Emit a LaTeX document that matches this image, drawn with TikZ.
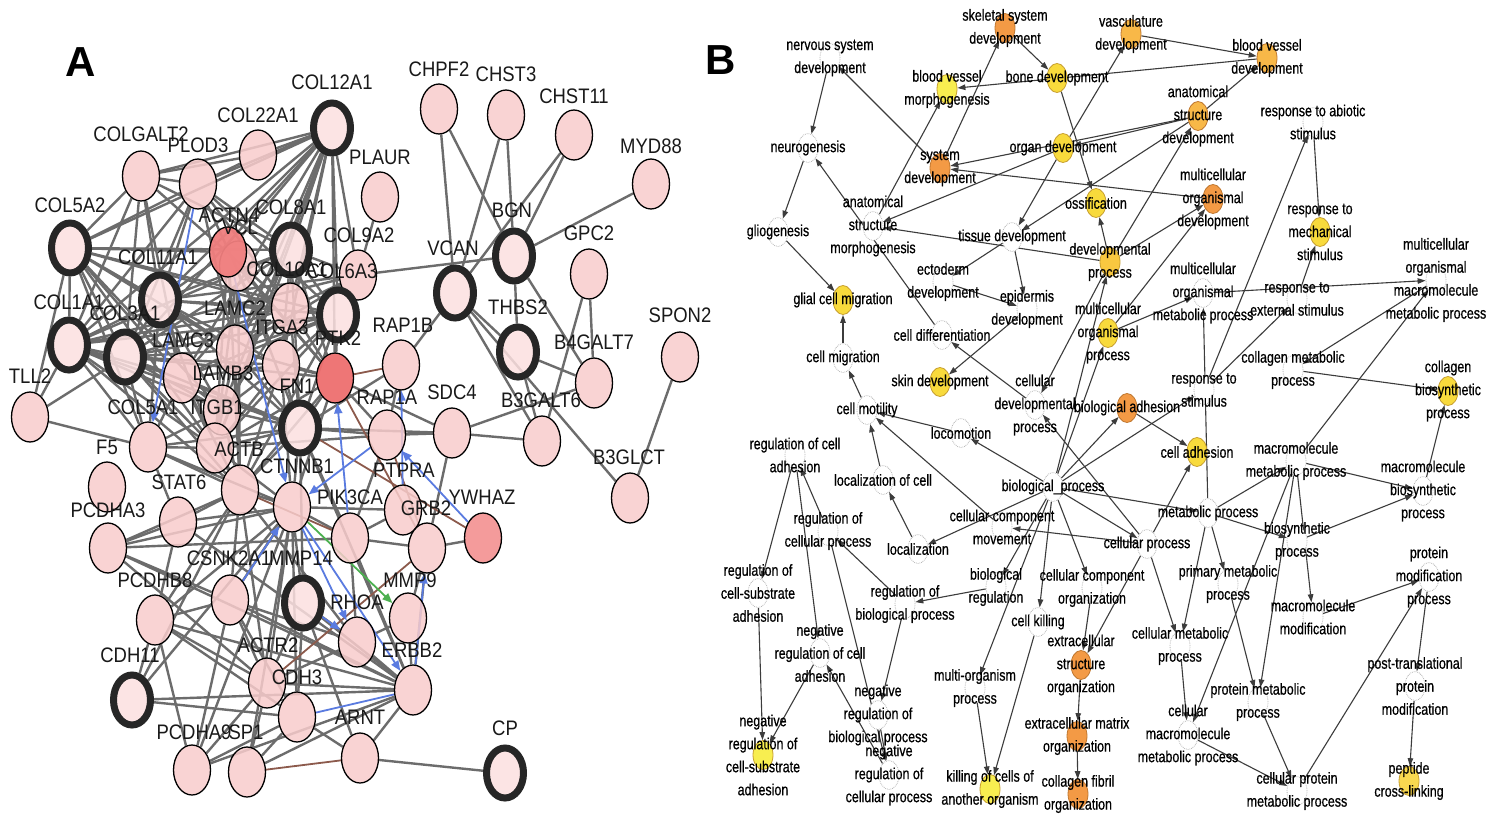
\documentclass[tikz,border=0pt]{standalone}
\usepackage{fontspec}
\setmainfont{Liberation Sans}
\newfontfamily\afont[FakeStretch=0.88]{Liberation Sans}
\newfontfamily\bfont[FakeStretch=0.78,FakeBold=0.6]{Liberation Sans}
\usetikzlibrary{shapes.geometric,arrows.meta}
\pgfdeclarelayer{bg}\pgfdeclarelayer{fg}\pgfsetlayers{bg,main,fg}
\definecolor{apink}{HTML}{F8CCCC}
\definecolor{apale}{HTML}{FCE0E0}
\definecolor{athk}{HTML}{262626}
\definecolor{aredA}{HTML}{F07E7E}
\definecolor{aredB}{HTML}{EE6F6F}
\definecolor{aredC}{HTML}{F49696}
\definecolor{agray}{HTML}{6C6C6C}
\definecolor{ablu}{HTML}{5A7BE0}
\definecolor{abrn}{HTML}{8C5A4C}
\definecolor{agrn}{HTML}{4CB050}
\definecolor{borng}{HTML}{F39A45}
\definecolor{bordr}{HTML}{C07830}
\definecolor{blor}{HTML}{F8B848}
\definecolor{bdev}{HTML}{F9C840}
\definecolor{byel}{HTML}{F8DA3C}
\definecolor{bpyl}{HTML}{F8EE50}
\definecolor{bpcl}{HTML}{F8D850}
\definecolor{bydr}{HTML}{C8A030}
\definecolor{bgray}{HTML}{3C3C3C}
\tikzset{
 an/.style={ellipse, draw=black, line width=1.3pt, fill=apink, fill opacity=0.85, minimum width=37pt, minimum height=50pt, inner sep=0pt},
 athick/.style={an, line width=7pt, draw=athk, fill=apale},
 ared/.style={an, fill=aredA, fill opacity=0.95},
 aredb/.style={an, fill=aredB, fill opacity=0.95},
 aredc/.style={an, fill=aredC, fill opacity=0.95},
 alab/.style={font=\afont\fontsize{21}{24}\selectfont, text=black!90, inner sep=0pt},
 aedge/.style={draw=agray, line width=2.4pt},
 ablue/.style={draw=ablu, line width=1.8pt, -{Triangle[length=10pt,width=8pt]}},
 abrown/.style={draw=abrn, line width=1.8pt},
 agreen/.style={draw=agrn, line width=1.8pt, -{Triangle[length=10pt,width=8pt]}},
 bnode/.style={ellipse, minimum width=20pt, minimum height=29pt, inner sep=0pt, line width=0.8pt},
 bw/.style={bnode, draw=gray!55, densely dotted, fill=white},
 bor/.style={bnode, draw=bordr, fill=borng},
 blo/.style={bnode, draw=bordr, fill=blor},
 bdp/.style={bnode, draw=bydr, fill=bdev},
 bye/.style={bnode, draw=bydr, fill=byel},
 bpy/.style={bnode, draw=bydr, fill=bpyl},
 bpc/.style={bnode, draw=bydr, fill=bpcl},
 blab/.style={font=\bfont\fontsize{16}{23}\selectfont, align=center, inner sep=0pt, text=black},
 bedge/.style={draw=bgray, line width=1.1pt, -{Triangle[length=8pt,width=5.5pt]}},
 panel/.style={font=\bfseries\fontsize{42}{42}\selectfont, inner sep=0pt}
}
\newcommand\An[7]{\node[#4] (#1) at (#2,#3) {};\begin{pgfonlayer}{fg}\node[alab] (#1-l) at (#6,#7) {#5};\end{pgfonlayer}}
\newcommand\Bn[5]{\node[#4] (#1) at (#2,#3) {};\begin{pgfonlayer}{fg}\node[blab] (#1-t) at (#2,#3) {#5};\end{pgfonlayer}}
\begin{document}
\begin{tikzpicture}[x=1pt,y=-1pt]
\begin{pgfonlayer}{bg}
\fill[white] (0,0) rectangle (1493,824);
\end{pgfonlayer}
\useasboundingbox (0,0) rectangle (1493,824);
\node[panel] (lA) at (81,62) {A};
\node[panel] (lB) at (721,60) {B};
% ---------- Panel A nodes ----------
\An{COL12A1}{332}{128}{athick}{COL12A1}{332}{82}
\An{COL22A1}{258}{155}{an}{COL22A1}{258}{115}
\An{COLGALT2}{141}{176}{an}{COLGALT2}{141}{134}
\An{PLOD3}{198}{184}{an}{PLOD3}{198}{145}
\An{PLAUR}{380}{197}{an}{PLAUR}{380}{157}
\An{CHPF2}{439}{109}{an}{CHPF2}{439}{69}
\An{CHST3}{506}{115}{an}{CHST3}{506}{74}
\An{CHST11}{574}{135}{an}{CHST11}{574}{96}
\An{MYD88}{651}{184}{an}{MYD88}{651}{146}
\An{COL5A2}{70}{248}{athick}{COL5A2}{70}{205}
\An{VCL}{238}{266}{an}{VCL}{240}{227}
\An{ACTN4}{228}{252}{ared}{ACTN4}{229}{215}
\An{COL8A1}{291}{250}{athick}{COL8A1}{291}{207}
\An{COL9A2}{358}{275}{an}{COL9A2}{359}{235}
\An{COL11A1}{160}{300}{athick}{COL11A1}{158}{257}
\An{COL10A1}{290}{308}{an}{COL10A1}{287}{269}
\An{COL6A3}{338}{315}{athick}{COL6A3}{342}{271}
\An{COL1A1}{69}{345}{athick}{COL1A1}{69}{302}
\An{COL3A1}{125}{357}{athick}{COL3A1}{125}{313}
\An{LAMC2}{235}{350}{an}{LAMC2}{235}{308}
\An{ITGA3}{281}{365}{an}{ITGA3}{282}{327}
\An{PTK2}{335}{378}{aredb}{PTK2}{338}{338}
\An{LAMC3}{182}{378}{an}{LAMC3}{183}{340}
\An{LAMB3}{222}{410}{an}{LAMB3}{223}{373}
\An{ITGB1}{215}{448}{an}{ITGB1}{217}{407}
\An{COL5A1}{148}{447}{an}{COL5A1}{143}{407}
\An{TLL2}{30}{417}{an}{TLL2}{30}{376}
\An{FN1}{300}{428}{athick}{FN1}{297}{386}
\An{RAP1B}{401}{365}{an}{RAP1B}{403}{325}
\An{RAP1A}{387}{435}{an}{RAP1A}{387}{397}
\An{SDC4}{452}{433}{an}{SDC4}{452}{392}
\An{F5}{107}{487}{an}{F5}{107}{447}
\An{ACTB}{240}{490}{an}{ACTB}{239}{449}
\An{CTNNB1}{292}{507}{an}{CTNNB1}{297}{466}
\An{STAT6}{178}{522}{an}{STAT6}{179}{482}
\An{PIK3CA}{350}{538}{an}{PIK3CA}{350}{497}
\An{PTPRA}{403}{510}{an}{PTPRA}{404}{470}
\An{GRB2}{427}{548}{an}{GRB2}{426}{508}
\An{YWHAZ}{483}{538}{aredc}{YWHAZ}{482}{497}
\An{PCDHA3}{108}{548}{an}{PCDHA3}{108}{510}
\An{CSNK2A1}{230}{600}{an}{CSNK2A1}{229}{558}
\An{MMP14}{303}{603}{athick}{MMP14}{301}{558}
\An{RHOA}{357}{642}{an}{RHOA}{357}{602}
\An{MMP9}{408}{618}{an}{MMP9}{410}{580}
\An{PCDHB8}{155}{620}{an}{PCDHB8}{155}{580}
\An{ERBB2}{413}{690}{an}{ERBB2}{412}{650}
\An{CDH11}{132}{700}{athick}{CDH11}{130}{655}
\An{ACTR2}{267}{683}{an}{ACTR2}{268}{645}
\An{CDH3}{297}{717}{an}{CDH3}{297}{677}
\An{PCDHA9}{192}{770}{an}{PCDHA9}{194}{732}
\An{SP1}{247}{772}{an}{SP1}{246}{732}
\An{ARNT}{360}{758}{an}{ARNT}{360}{717}
\An{CP}{505}{773}{athick}{CP}{505}{728}
\An{VCAN}{455}{293}{athick}{VCAN}{453}{248}
\An{BGN}{514}{256}{athick}{BGN}{512}{210}
\An{GPC2}{589}{274}{an}{GPC2}{589}{233}
\An{THBS2}{518}{352}{athick}{THBS2}{518}{307}
\An{B4GALT7}{594}{383}{an}{B4GALT7}{594}{342}
\An{B3GALT6}{542}{441}{an}{B3GALT6}{541}{400}
\An{B3GLCT}{630}{498}{an}{B3GLCT}{629}{457}
\An{SPON2}{680}{357}{an}{SPON2}{680}{315}
% ---------- Panel A edges ----------
\begin{pgfonlayer}{bg}
\foreach \a/\b in {COL12A1/COL22A1, COL12A1/COLGALT2, COL12A1/PLOD3, COL12A1/COL5A2, COL12A1/COL11A1, COL12A1/COL8A1, COL12A1/COL1A1, COL12A1/COL3A1, COL12A1/COL10A1, COL12A1/COL6A3, COL12A1/COL9A2, COL12A1/LAMC2, COL12A1/ITGA3, COL12A1/ACTN4, COL12A1/LAMC3, COL12A1/LAMB3, COL12A1/PTK2, COL12A1/ITGB1,
COL22A1/COLGALT2, COL22A1/PLOD3,
COLGALT2/COL5A2, COLGALT2/COL11A1, COLGALT2/COL1A1, COLGALT2/COL3A1, COLGALT2/LAMC3, COLGALT2/PLOD3, COLGALT2/COL8A1, COLGALT2/COL10A1,
PLOD3/COL5A2, PLOD3/COL11A1, PLOD3/COL1A1, PLOD3/COL3A1, PLOD3/COL8A1, PLOD3/COL10A1, PLOD3/COL6A3, PLOD3/LAMC2, PLOD3/ITGA3,
COL5A2/COL11A1, COL5A2/COL1A1, COL5A2/COL3A1, COL5A2/LAMC3, COL5A2/LAMB3, COL5A2/ACTN4, COL5A2/COL8A1, COL5A2/COL10A1, COL5A2/COL6A3, COL5A2/TLL2, COL5A2/LAMC2, COL5A2/ITGB1, COL5A2/COL5A1,
COL8A1/COL11A1, COL8A1/COL1A1, COL8A1/COL3A1, COL8A1/COL10A1, COL8A1/COL6A3, COL8A1/LAMC2, COL8A1/ITGA3, COL8A1/LAMC3, COL8A1/COL9A2, COL8A1/ITGB1, COL8A1/FN1, COL8A1/PTK2,
COL9A2/COL6A3, COL9A2/COL10A1, COL9A2/COL11A1, COL9A2/BGN, COL9A2/PLAUR, COL9A2/LAMC2, COL9A2/COL1A1,
COL11A1/COL1A1, COL11A1/COL3A1, COL11A1/COL10A1, COL11A1/COL6A3, COL11A1/LAMC2, COL11A1/LAMC3, COL11A1/LAMB3, COL11A1/ITGA3, COL11A1/ITGB1, COL11A1/ACTN4, COL11A1/COL5A1, COL11A1/FN1,
COL1A1/COL3A1, COL1A1/TLL2, COL1A1/COL5A1, COL1A1/LAMC3, COL1A1/LAMB3, COL1A1/ITGB1, COL1A1/FN1, COL1A1/COL10A1, COL1A1/COL6A3, COL1A1/ACTB,
COL3A1/TLL2, COL3A1/COL5A1, COL3A1/LAMC3, COL3A1/LAMB3, COL3A1/ITGB1, COL3A1/FN1, COL3A1/COL10A1, COL3A1/COL6A3, COL3A1/LAMC2, COL3A1/ITGA3, COL3A1/ACTB, COL3A1/PTK2,
TLL2/COL5A1,
COL10A1/COL6A3, COL10A1/LAMC2, COL10A1/ITGA3, COL10A1/PTK2, COL10A1/FN1, COL10A1/LAMB3,
COL6A3/LAMC2, COL6A3/ITGA3, COL6A3/PTK2, COL6A3/FN1, COL6A3/LAMC3, COL6A3/ITGB1, COL6A3/ACTB,
LAMC2/ITGA3, LAMC2/LAMC3, LAMC2/LAMB3, LAMC2/ITGB1, LAMC2/FN1, LAMC2/PTK2, LAMC2/ACTB,
LAMC3/LAMB3, LAMC3/ITGB1, LAMC3/FN1, LAMC3/ITGA3, LAMC3/COL5A1, LAMC3/ACTB,
LAMB3/ITGB1, LAMB3/ITGA3, LAMB3/FN1, LAMB3/COL5A1, LAMB3/ACTB,
ITGA3/ITGB1, ITGA3/FN1, ITGA3/PTK2, ITGA3/ACTB, ITGA3/CTNNB1,
ITGB1/FN1, ITGB1/PTK2, ITGB1/ACTB, ITGB1/COL5A1, ITGB1/CTNNB1, ITGB1/ACTN4, ITGB1/RAP1A,
COL5A1/FN1, COL5A1/ACTB, COL5A1/CTNNB1, COL5A1/STAT6,
FN1/PTK2, FN1/ACTB, FN1/CTNNB1, FN1/SDC4, FN1/RAP1A, FN1/RAP1B, FN1/PIK3CA, FN1/ERBB2, FN1/MMP14,
PTK2/RAP1A, PTK2/SDC4, PTK2/ACTB, PTK2/CTNNB1, PTK2/ACTN4,
VCL/ACTN4, VCL/ITGB1, VCL/PTK2, VCL/FN1, VCL/ACTB, VCL/LAMC2,
ACTN4/LAMC2, ACTN4/ITGA3, ACTN4/ACTB,
ACTB/CTNNB1, ACTB/STAT6, ACTB/PCDHA3, ACTB/ACTR2, ACTB/CSNK2A1, ACTB/RHOA, ACTB/PCDHB8, ACTB/CDH11,
STAT6/CTNNB1, STAT6/PCDHA3, STAT6/PCDHB8, STAT6/ERBB2,
PCDHA3/CTNNB1, PCDHA3/CSNK2A1, PCDHA3/PIK3CA, PCDHA3/ERBB2, PCDHA3/ACTR2,
CTNNB1/PIK3CA, CTNNB1/CSNK2A1, CTNNB1/MMP14, CTNNB1/ACTR2, CTNNB1/CDH3, CTNNB1/PCDHB8, CTNNB1/CDH11, CTNNB1/PTPRA, CTNNB1/SP1, CTNNB1/PCDHA9,
PCDHB8/CSNK2A1, PCDHB8/CDH11, PCDHB8/CDH3, PCDHB8/ACTR2, PCDHB8/ERBB2, PCDHB8/PCDHA9,
CSNK2A1/PCDHA9, CSNK2A1/ERBB2, CSNK2A1/CDH3, CSNK2A1/ACTR2, CSNK2A1/RHOA,
MMP14/RHOA, MMP14/ARNT, MMP14/CDH3, MMP14/ACTR2, MMP14/ERBB2,
CDH11/ERBB2, CDH11/CDH3,
ACTR2/ERBB2, ACTR2/CDH3, ACTR2/RHOA, ACTR2/SP1,
CDH3/PCDHA9, CDH3/SP1,
PCDHA9/ERBB2, PCDHA9/ACTR2,
SP1/ERBB2,
ARNT/CP, ARNT/ERBB2, ARNT/CDH3,
RHOA/ERBB2, RHOA/MMP9, RHOA/PIK3CA,
PIK3CA/GRB2, PIK3CA/PTPRA, PIK3CA/ERBB2, PIK3CA/RAP1A,
GRB2/YWHAZ, GRB2/ERBB2, GRB2/PTPRA, GRB2/SDC4,
RAP1A/RAP1B, RAP1A/SDC4,
RAP1B/VCAN,
SDC4/B3GALT6, SDC4/B4GALT7,
VCAN/CHPF2, VCAN/CHST3, VCAN/CHST11, VCAN/THBS2, VCAN/B3GLCT, VCAN/B3GALT6,
BGN/CHPF2, BGN/CHST3, BGN/CHST11, BGN/MYD88, BGN/THBS2, BGN/B4GALT7,
GPC2/B4GALT7, GPC2/B3GALT6,
THBS2/B3GALT6, THBS2/B4GALT7,
SPON2/B3GLCT,
MMP9/ERBB2, MMP9/GRB2}
  \draw[aedge] (\a) -- (\b);
\foreach \a/\b in {PTK2/RAP1B, FN1/YWHAZ, PTK2/GRB2, RAP1A/GRB2, ACTR2/GRB2, SP1/ARNT, ACTB/PIK3CA}
  \draw[abrown] (\a) -- (\b);
\draw[ablu, line width=1.8pt] (CDH3) -- (ERBB2);
\foreach \a/\b in {PLOD3/COL5A1, ACTN4/CTNNB1, PIK3CA/PTK2, PTPRA/RAP1B, YWHAZ/RAP1A, RAP1A/CTNNB1, CSNK2A1/CTNNB1, MMP14/RHOA, ERBB2/GRB2, CTNNB1/RHOA, CTNNB1/ERBB2}
  \draw[ablue] (\a) -- (\b);
\draw[agreen] (CTNNB1) -- (MMP9);
\end{pgfonlayer}
% ---------- Panel B nodes ----------
\Bn{ssd}{1005}{28}{bor}{skeletal system\\development}
\Bn{nsd}{830}{58}{bw}{nervous system\\development}
\Bn{vd}{1131}{34}{blo}{vasculature\\development}
\Bn{bvd}{1267}{58}{blo}{blood vessel\\development}
\Bn{bvm}{947}{89}{bpy}{blood vessel\\morphogenesis}
\Bn{bd}{1057}{78}{bye}{bone development}
\Bn{asd}{1198}{116}{blo}{anatomical\\structure\\development}
\Bn{ras}{1313}{122}{bw}{response to abiotic\\stimulus}
\Bn{ng}{808}{148}{bw}{neurogenesis}
\Bn{od}{1063}{148}{bye}{organ development}
\Bn{sd}{940}{168}{bor}{system\\development}
\Bn{mod}{1213}{199}{bor}{multicellular\\organismal\\development}
\Bn{oss}{1096}{203}{bye}{ossification}
\Bn{rms}{1320}{232}{bye}{response to\\mechanical\\stimulus}
\Bn{gg}{778}{232}{bw}{gliogenesis}
\Bn{asm}{873}{226}{bw}{anatomical\\structure\\morphogenesis}
\Bn{td}{1012}{237}{bw}{tissue development}
\Bn{dp}{1110}{262}{bdp}{developmental\\process}
\Bn{mop}{1108}{333}{bye}{multicellular\\organismal\\process}
\Bn{mommp}{1436}{280}{bw}{multicellular\\organismal\\macromolecule\\metabolic process}
\Bn{mompr}{1203}{293}{bw}{multicellular\\organismal\\metabolic process}
\Bn{res}{1297}{299}{bw}{response to\\external stimulus}
\Bn{gcm}{843}{300}{bye}{glial cell migration}
\Bn{ed}{943}{282}{bw}{ectoderm\\development}
\Bn{epd}{1027}{309}{bw}{epidermis\\development}
\Bn{cd}{942}{335}{bw}{cell differentiation}
\Bn{cm}{843}{358}{bw}{cell migration}
\Bn{cmp}{1293}{370}{bw}{collagen metabolic\\process}
\Bn{cbp}{1448}{391}{bye}{collagen\\biosynthetic\\process}
\Bn{skd}{940}{382}{bye}{skin development}
\Bn{cdp}{1035}{405}{bw}{cellular\\developmental\\process}
\Bn{rs}{1204}{390}{bw}{response to\\stimulus}
\Bn{ba}{1127}{408}{bor}{biological adhesion}
\Bn{cmot}{867}{410}{bw}{cell motility}
\Bn{loc}{961}{433}{bw}{locomotion}
\Bn{ca}{1197}{452}{bye}{cell adhesion}
\Bn{rca}{795}{455}{bw}{regulation of cell\\adhesion}
\Bn{loccell}{883}{480}{bw}{localization of cell}
\Bn{mmp}{1296}{461}{bw}{macromolecule\\metabolic process}
\Bn{mbp}{1423}{491}{bw}{macromolecule\\biosynthetic\\process}
\Bn{bp}{1053}{487}{bw}{biological\_process}
\Bn{mp}{1208}{513}{bw}{metabolic process}
\Bn{rcp}{828}{531}{bw}{regulation of\\cellular process}
\Bn{ccm}{1002}{527}{bw}{cellular component\\movement}
\Bn{lz}{918}{549}{bw}{localization}
\Bn{cp}{1147}{544}{bw}{cellular process}
\Bn{bsp}{1297}{541}{bw}{biosynthetic\\process}
\Bn{rcsa}{758}{593}{bw}{regulation of\\cell-substrate\\adhesion}
\Bn{br}{996}{587}{bw}{biological\\regulation}
\Bn{cco}{1092}{588}{bw}{cellular component\\organization}
\Bn{pmp}{1228}{584}{bw}{primary metabolic\\process}
\Bn{pmodp}{1429}{577}{bw}{protein\\modification\\process}
\Bn{rbp}{905}{604}{bw}{regulation of\\biological process}
\Bn{ck}{1038}{622}{bw}{cell killing}
\Bn{mmod}{1313}{617}{bw}{macromolecule\\modification}
\Bn{nrca}{820}{653}{bw}{negative\\regulation of cell\\adhesion}
\Bn{cmetp}{1180}{646}{bw}{cellular metabolic\\process}
\Bn{eso}{1081}{665}{bor}{extracellular\\structure\\organization}
\Bn{ptpm}{1415}{686}{bw}{post-translational\\protein\\modification}
\Bn{mop2}{975}{688}{bw}{multi-organism\\process}
\Bn{nrbp}{878}{715}{bw}{negative\\regulation of\\biological process}
\Bn{prmp}{1258}{702}{bw}{protein metabolic\\process}
\Bn{cmmp}{1188}{735}{bw}{cellular\\macromolecule\\metabolic process}
\Bn{emo}{1077}{736}{bor}{extracellular matrix\\organization}
\Bn{nrcsa}{763}{755}{bpy}{negative\\regulation of\\cell-substrate\\adhesion}
\Bn{nrcp}{889}{775}{bw}{negative\\regulation of\\cellular process}
\Bn{kcao}{990}{789}{bpy}{killing of cells of\\another organism}
\Bn{cfo}{1078}{794}{bor}{collagen fibril\\organization}
\Bn{cpmp}{1297}{791}{bw}{cellular protein\\metabolic process}
\Bn{pcl}{1409}{781}{bpc}{peptide\\cross-linking}
% ---------- Panel B edges ----------
\begin{pgfonlayer}{bg}
\foreach \a/\b in {nsd/ng, sd/nsd, ng/gg, cd/ng, gg/gcm, cm/gcm, sd/ssd, ssd/bd, bd/oss, bvd/bvm, asm/bvm, vd/bvd, asd/bvd, od/vd, asd/sd, asd/od, mod/sd, od/asm, dp/asm, od/td, asd/td, dp/asd, dp/mod, mop/mod, dp/oss, td/epd, ed/epd, td/ed, epd/skd, cdp/cd, cp/cdp, dp/cdp, bp/mop, bp/dp, bp/ba, bp/rs, bp/loc, bp/lz, cp/ccm, ccm/cmot, loc/cmot, loccell/cmot, lz/loccell, cmot/cm, bp/br, bp/cp, bp/mp, bp/ck, bp/mop2, bp/cco, br/rbp, rbp/nrbp, rbp/rcp, rcp/nrcp, nrbp/nrcp, rcp/rca, rca/rcsa, rca/nrca, nrcp/nrca, nrca/nrcsa, rcsa/nrcsa, mop2/kcao, ck/kcao, cco/eso, cp/eso, eso/emo, emo/cfo, cp/cmetp, mp/cmetp, mp/pmp, cmetp/cmmp, mmp/cmmp, pmp/prmp, mmp/prmp, prmp/cpmp, cmmp/cpmp, cpmp/pmodp, mmod/pmodp, pmodp/ptpm, ptpm/pcl, mmp/mmod, mp/mmp, mp/bsp, bsp/mbp, mmp/mbp, mbp/cbp, cmp/cbp, mommp/cmp, mmp/mommp, mompr/mommp, mop/mompr, mp/mompr, rs/res, rs/ras, ras/rms, res/rms, ba/ca, cp/ca}
  \draw[bedge] (\a) -- (\b);
\end{pgfonlayer}
\end{tikzpicture}
\end{document}
